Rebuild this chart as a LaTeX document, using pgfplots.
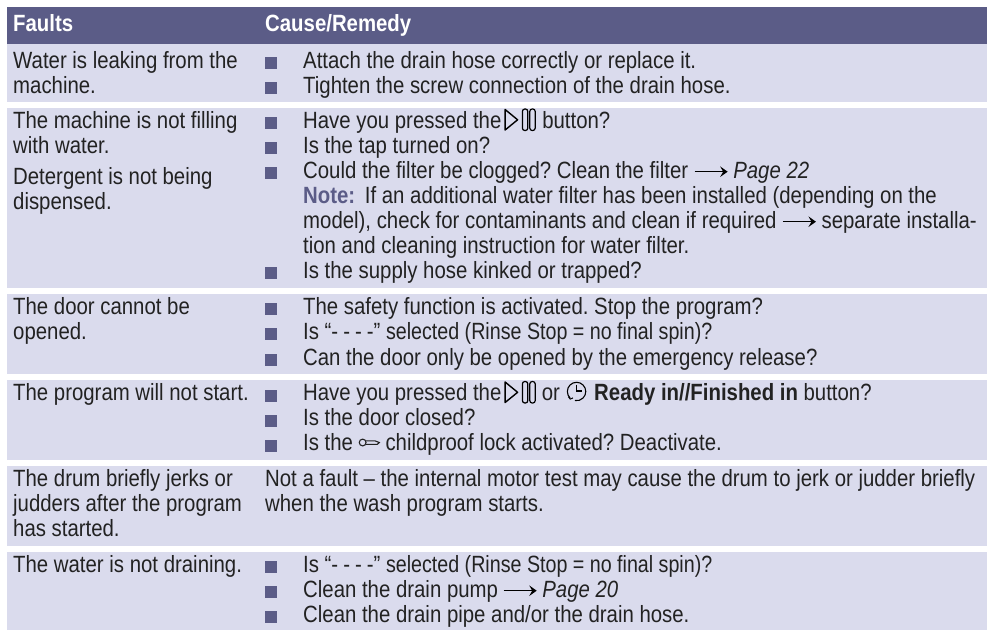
\documentclass[border=0pt]{standalone}
\usepackage{pgfplots}
\pgfplotsset{compat=1.18}
\usepackage{fontspec}
\setmainfont[FakeStretch=0.867]{Liberation Sans}
\frenchspacing
\definecolor{hdr}{HTML}{5B5C87}
\definecolor{band}{HTML}{DADBED}
\definecolor{ink}{HTML}{222222}
\newcommand{\playpause}{\tikz[baseline=0pt,x=1pt,y=1pt]{\draw[black,line width=1.4pt,line join=round](0.7,-2)--(0.7,18.5)--(13.2,8.2)--cycle;\draw[black,line width=1.2pt,rounded corners=2.4pt](18,-2.5)rectangle(23.4,19);\draw[black,line width=1.2pt,rounded corners=2.4pt](25.4,-2.5)rectangle(30.8,19);}}
\newcommand{\clockicon}{\tikz[baseline=0pt,x=1pt,y=1pt]{\draw[black,line width=1.1pt](3.5,2.5)arc[start angle=225,end angle=-100,radius=9.2];\draw[black,line width=1.1pt](10,16)--(10,9.5)--(15.5,9.5);\draw[black,line width=1pt](1.8,3.8)--(3.7,1.4)--(6.4,2.6);}}
\newcommand{\keyicon}{\tikz[baseline=0pt,x=1pt,y=1pt]{\draw[ink,line width=1.1pt](3.8,8)circle(3.4);\draw[ink,line width=1.1pt](7,9.7)--(16,9.7)--(20.5,8)--(18.5,6.2)--(7,6.2);}}
\newcommand{\arrowicon}{\tikz[baseline=0pt,x=1pt,y=1pt]{\draw[black,line width=1.4pt](0,6.3)--(31,6.3);\fill[black](33,6.3)--(25.5,11.6)--(28.5,6.3)--(25.5,1)--cycle;}}
\newcommand{\T}[3]{\node[anchor=base west,inner sep=0pt,text=ink,font=\fontsize{23.5}{25}\selectfont] at (axis cs:#1,#2) {#3};}
\newcommand{\dashes}{-\kern5pt-\kern5pt-\kern5pt-}
\begin{document}
\begin{tikzpicture}
\begin{axis}[width=987pt,height=630pt,scale only axis,xmin=0,xmax=987,ymin=0,ymax=630,y dir=reverse,hide axis,clip=true]
% background
\addplot[draw=none,fill=white,forget plot] coordinates {(0,0)(987,0)(987,630)(0,630)} -- cycle;
% header
\addplot[draw=none,fill=hdr,forget plot] coordinates {(7,7)(987,7)(987,44)(7,44)} -- cycle;
% rows
\addplot[draw=none,fill=band,forget plot] coordinates {(7,44)(987,44)(987,102)(7,102)} -- cycle;
\addplot[draw=none,fill=band,forget plot] coordinates {(7,108)(987,108)(987,288)(7,288)} -- cycle;
\addplot[draw=none,fill=band,forget plot] coordinates {(7,294)(987,294)(987,374)(7,374)} -- cycle;
\addplot[draw=none,fill=band,forget plot] coordinates {(7,380)(987,380)(987,460)(7,460)} -- cycle;
\addplot[draw=none,fill=band,forget plot] coordinates {(7,466)(987,466)(987,546)(7,546)} -- cycle;
\addplot[draw=none,fill=band,forget plot] coordinates {(7,552)(987,552)(987,630)(7,630)} -- cycle;
% bullets
\addplot[only marks,color=hdr,mark=square*,mark size=5.7pt,mark options={draw=hdr,fill=hdr,line width=0.6pt},forget plot] coordinates {
(271,62.5)(271,87.5)(271,122.5)(271,147.5)(271,172.5)(271,272.5)
(271,308.5)(271,333.5)(271,359.5)(271,396)(271,421)(271,446)
(271,567)(271,592)(271,617)};
% header text
\node[anchor=base west,inner sep=0pt,text=white,font=\fontsize{23.5}{25}\selectfont\bfseries] at (axis cs:13,31) {Faults};
\node[anchor=base west,inner sep=0pt,text=white,font=\fontsize{23.5}{25}\selectfont\bfseries] at (axis cs:265,31) {Cause/Remedy};
% faults
\T{13}{68}{Water is leaking from the}
\T{13}{93}{machine.}
\T{13}{128}{The machine is not filling}
\T{13}{153}{with water.}
\T{13}{184}{Detergent is not being}
\T{13}{209}{dispensed.}
\T{13}{314}{The door cannot be}
\T{13}{339}{opened.}
\T{13}{400.5}{The program will not start.}
\T{13}{486.5}{The drum briefly jerks or}
\T{13}{511.5}{judders after the program}
\T{13}{536.5}{has started.}
\T{13}{572}{The water is not draining.}
% remedies
\T{303}{68}{Attach the drain hose correctly or replace it.}
\T{303}{93}{Tighten the screw connection of the drain hose.}
\T{303}{128}{Have you pressed the\hspace{3pt}\playpause\hspace{6.5pt}button?}
\T{303}{153}{Is the tap turned on?}
\T{303}{178}{Could the filter be clogged? Clean the filter \arrowicon{} \textit{Page 22}}
\T{303}{203}{\textcolor{hdr}{\textbf{Note:}}\hspace{4pt} If an additional water filter has been installed (depending on the}
\T{303}{228}{model), check for contaminants and clean if required \arrowicon{} separate installa-}
\T{303}{253}{tion and cleaning instruction for water filter.}
\T{303}{278}{Is the supply hose kinked or trapped?}
\T{303}{314}{The safety function is activated. Stop the program?}
\T{303}{339}{Is “\dashes” \scalebox{0.965}[1]{selected (Rinse Stop = no final spin)?}}
\T{303}{365}{Can the door only be opened by the emergency release?}
\T{303}{400.5}{Have you pressed the\hspace{3pt}\playpause\hspace{6pt}or\hspace{6pt}\clockicon\hspace{7pt}\textbf{Ready in//Finished in} button?}
\T{303}{425.5}{Is the door closed?}
\T{303}{450.5}{Is the \keyicon{} childproof lock activated? Deactivate.}
\T{265}{486.5}{Not a fault – the internal motor test may cause the drum to jerk or judder briefly}
\T{265}{511.5}{when the wash program starts.}
\T{303}{572}{Is “\dashes” \scalebox{0.965}[1]{selected (Rinse Stop = no final spin)?}}
\T{303}{597}{Clean the drain pump\hspace{5pt}\arrowicon{} \textit{Page 20}}
\T{303}{622}{Clean the drain pipe and/or the drain hose.}
\end{axis}
\end{tikzpicture}
\end{document}
